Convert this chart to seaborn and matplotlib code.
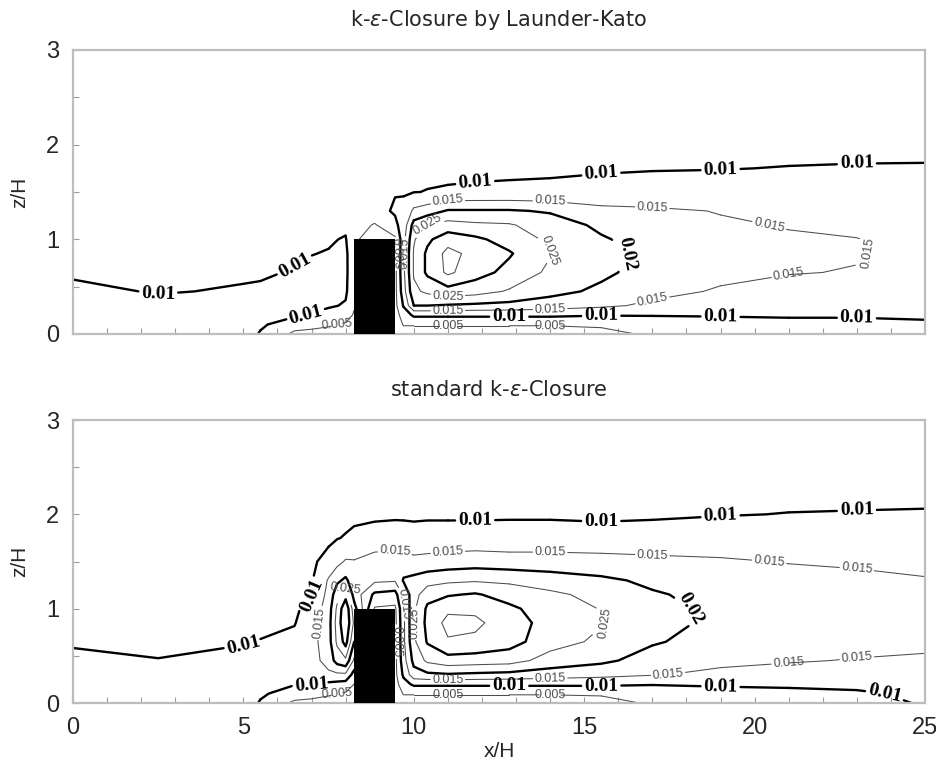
import warnings
import numpy as np
import matplotlib
matplotlib.use("Agg")
import matplotlib.pyplot as plt
from matplotlib.ticker import MultipleLocator
import seaborn as sns

warnings.filterwarnings("ignore")
nan = float("nan")

x_stations = [0, 2.5, 5.0, 5.5, 6.5, 7.0, 7.5, 7.75, 8.0, 8.25, 8.85, 9.45, 9.7,
              10.0, 10.4, 11.0, 11.8, 12.8, 14.0, 15.5, 17.0, 19.0, 21.0, 23.0, 25.0]
z_levels = [0, 0.1, 0.2, 0.3, 0.45, 0.65, 0.85, 1.0, 1.15, 1.3, 1.5, 1.75, 2.0, 2.4, 3.0]

# TKE (x 1e-3), one profile per x station (bottom -> top)
tke_launder_kato = [
    [14, 13.5, 13, 12.3, 11.0, 9.4, 9.0, 8.8, 8.6, 8.5, 8.3, 8.1, 7.9, 7.6, 7.2],
    [13.5, 13, 12.3, 11.3, 9.7, 9.2, 8.9, 8.7, 8.6, 8.5, 8.3, 8.1, 7.9, 7.6, 7.2],
    [13, 12.6, 12.2, 11.6, 10.4, 9.4, 9.0, 8.8, 8.6, 8.5, 8.3, 8.1, 7.9, 7.6, 7.2],
    [9.5, 10.8, 12, 11.8, 10.6, 9.5, 9.0, 8.8, 8.6, 8.5, 8.3, 8.1, 7.9, 7.6, 7.2],
    [4, 7, 10.8, 11.8, 11.4, 10.3, 9.5, 9.1, 8.8, 8.6, 8.4, 8.2, 7.9, 7.6, 7.2],
    [3.8, 6.2, 9.6, 11.2, 11.5, 10.8, 9.9, 9.4, 9.0, 8.7, 8.5, 8.2, 7.9, 7.6, 7.2],
    [3.5, 5.5, 8.5, 10.5, 11.5, 11.2, 10.2, 9.6, 9.1, 8.8, 8.5, 8.2, 7.9, 7.6, 7.2],
    [3.2, 5.0, 7.8, 10.1, 11.2, 11.1, 10.6, 9.95, 9.2, 8.8, 8.5, 8.2, 7.9, 7.6, 7.2],
    [3, 4.5, 7, 9.5, 10.8, 11, 10.8, 10.3, 9.2, 8.8, 8.5, 8.2, 7.9, 7.6, 7.2],
    [2.5, 3.5, 4.5, 5.5, 6, 6.5, 7, 6, 7.5, 8.5, 8.8, 8.6, 8.1, 7.6, 7.2],
    [nan, nan, nan, nan, nan, nan, nan, 2, 4.5, 8.5, 9.5, 9.0, 8.5, 7.8, 7.3],
    [2, 2.5, 3, 3.5, 3.5, 3.5, 3.5, 4, 9, 10.5, 9.8, 9.3, 8.9, 8.2, 7.5],
    [3, 5.3, 7, 10.5, 13, 14, 14, 13.5, 12, 11, 9.7, 9.3, 8.9, 8.2, 7.5],
    [3, 5.3, 11, 20, 24, 25.5, 25.5, 24.5, 22, 16, 9.9, 9.3, 8.9, 8.2, 7.5],
    [3, 5.3, 11, 20, 26, 31, 31, 29, 25.3, 17.5, 10.1, 9.3, 8.9, 8.2, 7.5],
    [3, 5.3, 11, 19.5, 28, 36, 36.5, 33, 27, 20.5, 10.3, 9.3, 8.9, 8.2, 7.5],
    [3, 5.3, 11, 19, 27, 32, 33.5, 31, 26, 20.5, 10.5, 9.3, 8.9, 8.2, 7.5],
    [3, 5.3, 11, 18.5, 24.5, 28.5, 30.5, 28, 25.5, 20.5, 10.6, 9.4, 8.9, 8.2, 7.5],
    [3, 5.3, 11, 17.5, 21.5, 24, 25.3, 24, 22.5, 19.5, 10.7, 9.5, 8.9, 8.2, 7.5],
    [4, 5.5, 10.3, 16, 19, 21, 21.5, 20.5, 19, 16.5, 11, 9.7, 9.0, 8.2, 7.5],
    [5.5, 7, 10.3, 14, 16.5, 18, 18.5, 18, 17, 15.8, 11.5, 9.8, 9.0, 8.2, 7.5],
    [6, 7.5, 10.5, 12.5, 14.5, 16.2, 16.5, 16.2, 15.5, 14.8, 11.5, 9.9, 9.0, 8.2, 7.5],
    [6.5, 8, 10.8, 12.2, 13.5, 15.2, 15.6, 15.4, 14.8, 13.5, 11.8, 10.1, 9.1, 8.3, 7.5],
    [7, 8.5, 10.6, 12, 13, 14.8, 15.3, 15.1, 14.2, 13.2, 11.8, 10.2, 9.2, 8.3, 7.5],
    [7.5, 9.2, 10.8, 11.8, 12.5, 13.2, 13.5, 13.5, 13.2, 12.6, 11.6, 10.3, 9.0, 8.3, 7.5],
]

tke_standard = [
    [14, 13.5, 13, 12.3, 11.0, 9.5, 9.0, 8.8, 8.6, 8.5, 8.3, 8.1, 7.9, 7.6, 7.2],
    [13.5, 13, 12.3, 11.5, 10.1, 9.3, 8.9, 8.7, 8.6, 8.5, 8.3, 8.1, 7.9, 7.6, 7.2],
    [13, 12.6, 12.2, 11.8, 10.9, 9.8, 9.2, 8.9, 8.7, 8.5, 8.3, 8.1, 7.9, 7.6, 7.2],
    [9.5, 10.8, 12, 11.9, 11.2, 10.1, 9.4, 9.0, 8.8, 8.6, 8.4, 8.2, 7.9, 7.6, 7.2],
    [4, 7.5, 10.3, 12, 12, 11, 9.8, 9.3, 9.0, 8.7, 8.5, 8.2, 7.9, 7.6, 7.2],
    [3.8, 6.5, 10.3, 12, 13, 13.2, 12.5, 11.5, 9.9, 9.6, 9.0, 8.6, 8.2, 7.7, 7.2],
    [3.5, 5.5, 9, 14, 17, 18, 18, 17.5, 16.5, 15.5, 12, 8.8, 8.4, 7.8, 7.3],
    [3.3, 5, 8.5, 14, 22, 26, 27, 26, 23, 19, 13.5, 9.8, 8.7, 7.8, 7.3],
    [3, 4.5, 8, 14, 24, 32, 34.5, 34, 28, 21, 15.5, 10.3, 8.8, 7.8, 7.3],
    [2.5, 3.5, 5, 8, 14, 20, 24, 22, 18, 17, 15.3, 11, 9, 7.9, 7.3],
    [nan, nan, nan, nan, nan, nan, nan, 4.5, 9, 16, 17, 12, 9.1, 8.0, 7.4],
    [2, 2.5, 3, 3.5, 3.5, 3.5, 3.5, 4, 8, 15.5, 17, 12.5, 9.2, 8.0, 7.4],
    [3, 5.3, 8, 11, 13, 14, 14, 14.5, 16, 20.5, 17, 12.3, 9.2, 8.0, 7.4],
    [3, 5.3, 11, 18, 21.5, 24, 24.5, 24, 23, 21.5, 16.2, 11.8, 9.2, 8.0, 7.4],
    [3, 5.3, 11, 19, 26, 30.5, 31.5, 31, 28, 23, 16.5, 12, 9.3, 8.0, 7.4],
    [3, 5.3, 11, 19.5, 28, 34.5, 36.5, 34, 29.5, 24, 17, 12, 9.3, 8.0, 7.4],
    [3, 5.3, 11, 19, 27.5, 34, 36, 34, 30.5, 24.5, 17.5, 12, 9.3, 8.0, 7.4],
    [3, 5.3, 11, 18.5, 27, 32, 32.5, 31, 28, 24, 17, 12, 9.4, 8.0, 7.4],
    [3, 5.3, 11, 17.5, 23, 27, 28, 27.5, 26, 22.5, 17, 12, 9.4, 8.0, 7.4],
    [3.5, 5.5, 11, 16.5, 21, 24, 25.3, 24.8, 23.5, 21, 16.5, 12.2, 9.0, 8.0, 7.4],
    [5.5, 7, 10.3, 15.3, 18, 20.5, 21.5, 21.3, 20.5, 19, 16, 12.3, 9.3, 8.0, 7.4],
    [6, 7.8, 10.8, 14, 16, 18, 19, 19, 18.5, 17.5, 15.5, 12.5, 9.8, 8.1, 7.4],
    [6.8, 8.5, 11, 13.5, 15.3, 17, 17.8, 17.8, 17.3, 16.5, 14.8, 12.8, 10.1, 8.2, 7.4],
    [8, 9.3, 11.2, 13.2, 14.8, 16.3, 17, 17, 16.5, 15.8, 14.5, 13, 10.2, 8.3, 7.4],
    [10.5, 11, 12, 13, 14.5, 15.8, 16.3, 16.3, 15.8, 15.2, 14.2, 12.8, 10.3, 8.3, 7.4],
]

contour_levels = [0.005, 0.01, 0.015, 0.02, 0.025, 0.03, 0.035]
thick_levels = [0.01, 0.02, 0.03]
building_x = [8.25, 9.45]
building_height = 1.0
panel_titles = [r"k-$\varepsilon$-Closure by Launder-Kato", r"standard k-$\varepsilon$-Closure"]
x_ticks = [0, 5, 10, 15, 20, 25]
z_ticks = [0, 1, 2, 3]

# labelling layout: each isoline is drawn in pieces (station-index bounds);
# a labelled piece carries one inline label per line segment ("tip" = outermost piece only)
label_layout = {
    0.005: ([0, 9, 13, 17, 19, 24], [1, 1, 1, 1, 0]),
    0.01: ([0, 3, 6, 12, 15, 18, 20, 22, 24], [1, 1, 0, 0, 1, 1, 1, 1]),
    0.015: ([0, 9, 13, 17, 19, 21, 22, 24], [1, 1, 1, 1, 1, 1, 1]),
    0.02: ([0, 3, 9, 13, 18, 20, 22, 24], "tip"),
    0.025: ([0, 13, 17, 24], [1, 1, 1]),
    0.03: ([0, 24], [0]),
    0.035: ([0, 24], [0]),
}

sns.set_theme(style="ticks")
plt.rcParams["font.family"] = ["Liberation Sans", "DejaVu Sans"]
plt.rcParams["mathtext.fontset"] = "dejavusans"

fig = plt.figure(figsize=(9.37, 7.69), dpi=100)
ax_top = fig.add_axes([0.0779, 0.5657, 0.9093, 0.3693])
ax_bot = fig.add_axes([0.0779, 0.0858, 0.9093, 0.3680])

X, Z = np.meshgrid(x_stations, z_levels)
fmt = lambda v: f"{v:g}"


def draw_panel(ax, values, title, show_xlabels):
    T = np.ma.masked_invalid(np.array(values, dtype=float).T / 1000.0)
    for lev in contour_levels:
        bounds, flags = label_layout[lev]
        pieces = list(zip(bounds[:-1], bounds[1:]))
        if flags == "tip":
            tip = max(i for i, (a, b) in enumerate(pieces) if T[:, a:b + 1].max() > lev)
            flags = [int(i == tip) for i in range(len(pieces))]
        thick = lev in thick_levels
        for (a, b), flag in zip(pieces, flags):
            Tc = T[:, a:b + 1]
            if not (Tc.min() < lev < Tc.max()):
                continue
            cs = ax.contour(X[:, a:b + 1], Z[:, a:b + 1], Tc, levels=[lev],
                            colors="black" if thick else "#4d4d4d",
                            linewidths=1.7 if thick else 0.75)
            try:
                cs.set_capstyle("round")
                cs.set_joinstyle("round")
            except Exception:
                pass
            if not flag:
                continue
            if thick:
                with plt.rc_context({"font.family": ["Liberation Serif"], "font.weight": "bold"}):
                    ax.clabel(cs, fmt=fmt, fontsize=14, inline=True, inline_spacing=3)
            else:
                with plt.rc_context({"font.family": ["Liberation Sans"]}):
                    ax.clabel(cs, fmt=fmt, fontsize=9, inline=True, inline_spacing=2)
    ax.fill_between(building_x, 0, building_height, color="black", zorder=5, linewidth=0)
    ax.set_xlim(0, 25)
    ax.set_ylim(0, 3)
    ax.set_xticks(x_ticks)
    ax.set_yticks(z_ticks)
    ax.xaxis.set_minor_locator(MultipleLocator(1))
    ax.yaxis.set_minor_locator(MultipleLocator(0.5))
    ax.tick_params(which="both", direction="in", length=4, width=0.8, color="#9a9a9a",
                   labelsize=17, pad=10)
    if not show_xlabels:
        ax.tick_params(axis="x", labelbottom=False)
    for sp in ax.spines.values():
        sp.set_color("#bdbdbd")
        sp.set_linewidth(1.6)
    ax.set_title(title, fontsize=15, pad=17, fontfamily="DejaVu Sans")
    ax.set_ylabel("z/H", fontsize=15, labelpad=12)


draw_panel(ax_top, tke_launder_kato, panel_titles[0], False)
draw_panel(ax_bot, tke_standard, panel_titles[1], True)
ax_bot.set_xlabel("x/H", fontsize=15, labelpad=2)

fig.savefig("out.png", dpi=100)
